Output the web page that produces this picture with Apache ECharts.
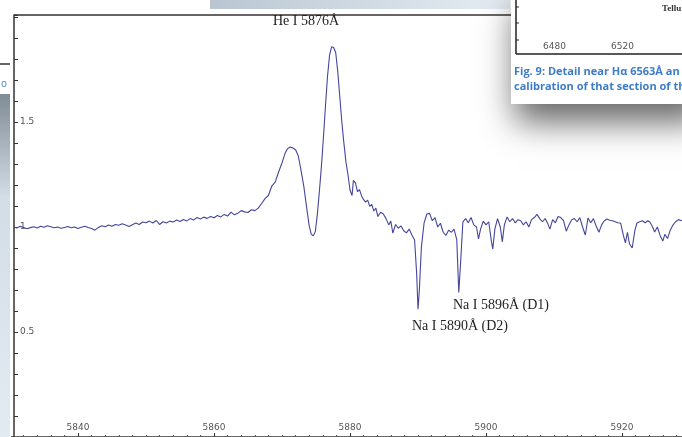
<!DOCTYPE html>
<html>
<head>
<meta charset="utf-8">
<script src="https://cdn.jsdelivr.net/npm/echarts@6/dist/echarts.min.js"></script>
<style>
html, body { margin: 0; padding: 0; background: #fff; }
#chart { width: 682px; height: 437px; }
</style>
</head>
<body>
<div id="chart"></div>
<script>
// wavelength (Å) and normalised flux
var wavelength = [
  5830.6, 5831.0, 5831.5, 5832.0, 5832.5, 5833.0, 5833.5, 5834.0, 5834.5, 5835.0,
  5835.5, 5836.0, 5836.5, 5837.0, 5837.5, 5838.0, 5838.5, 5839.0, 5839.5, 5840.0,
  5840.5, 5841.0, 5841.5, 5842.0, 5842.5, 5843.0, 5843.5, 5844.0, 5844.5, 5845.0,
  5845.5, 5846.0, 5846.5, 5847.0, 5847.5, 5848.0, 5848.5, 5849.0, 5849.5, 5850.0,
  5850.5, 5851.0, 5851.5, 5852.0, 5852.5, 5853.0, 5853.5, 5854.0, 5854.5, 5855.0,
  5855.5, 5856.0, 5856.5, 5857.0, 5857.5, 5858.0, 5858.5, 5859.0, 5859.5, 5860.0,
  5860.5, 5861.0, 5861.5, 5862.0, 5862.5, 5863.0, 5863.5, 5864.0, 5864.5, 5865.0,
  5865.5, 5866.0, 5866.5, 5867.0, 5867.5, 5868.0, 5868.5, 5869.0, 5869.5, 5870.0,
  5870.5, 5870.8, 5871.2, 5871.6, 5872.0, 5872.4, 5872.8, 5873.2, 5873.6, 5874.0,
  5874.3, 5874.6, 5874.9, 5875.2, 5875.5, 5875.8, 5876.1, 5876.4, 5876.7, 5877.0,
  5877.3, 5877.6, 5877.9, 5878.2, 5878.5, 5878.8, 5879.1, 5879.4, 5879.7, 5880.0,
  5880.3, 5880.5, 5880.8, 5881.1, 5881.4, 5881.7, 5882.0, 5882.3, 5882.6, 5882.9,
  5883.2, 5883.5, 5883.8, 5884.1, 5884.5, 5884.9, 5885.3, 5885.7, 5886.0, 5886.3,
  5886.7, 5887.1, 5887.5, 5887.9, 5888.3, 5888.7, 5889.1, 5889.5, 5889.8, 5890.0,
  5890.2, 5890.5, 5890.9, 5891.3, 5891.7, 5892.1, 5892.5, 5892.9, 5893.3, 5893.7,
  5894.1, 5894.5, 5894.9, 5895.3, 5895.7, 5896.0, 5896.3, 5896.6, 5897.0, 5897.4,
  5897.8, 5898.2, 5898.6, 5898.9, 5899.2, 5899.6, 5900.0, 5900.4, 5900.8, 5901.0,
  5901.3, 5901.7, 5902.1, 5902.4, 5902.7, 5903.1, 5903.5, 5903.9, 5904.3, 5904.7,
  5905.1, 5905.5, 5905.9, 5906.3, 5906.7, 5907.1, 5907.5, 5907.9, 5908.3, 5908.7,
  5909.1, 5909.4, 5909.8, 5910.2, 5910.6, 5911.0, 5911.4, 5911.8, 5912.2, 5912.6,
  5913.0, 5913.4, 5913.8, 5914.2, 5914.6, 5915.0, 5915.4, 5915.8, 5916.2, 5916.6,
  5917.0, 5917.4, 5917.8, 5918.2, 5918.6, 5919.0, 5919.4, 5919.8, 5920.2, 5920.5,
  5920.8, 5921.1, 5921.5, 5921.9, 5922.2, 5922.6, 5923.0, 5923.4, 5923.8, 5924.1,
  5924.5, 5924.8, 5925.2, 5925.6, 5926.0, 5926.3, 5926.7, 5927.1, 5927.5, 5927.9,
  5928.3, 5928.8
];
var flux = [
  1.000, 0.995, 1.003, 0.998, 0.992, 0.997, 1.001, 0.995, 1.004, 0.999,
  1.006, 1.001, 0.996, 1.000, 0.994, 0.998, 1.002, 0.996, 1.000, 0.993,
  0.999, 1.004, 0.998, 0.993, 0.985, 0.998, 1.006, 1.001, 1.010, 1.004,
  1.012, 1.008, 1.015, 1.009, 1.002, 1.011, 1.019, 1.012, 1.024, 1.020,
  1.028, 1.019, 1.031, 1.012, 1.025, 1.019, 1.028, 1.024, 1.033, 1.026,
  1.036, 1.029, 1.040, 1.033, 1.045, 1.038, 1.047, 1.041, 1.050, 1.044,
  1.055, 1.048, 1.060, 1.052, 1.071, 1.058, 1.065, 1.078, 1.072, 1.069,
  1.082, 1.078, 1.090, 1.112, 1.135, 1.150, 1.195, 1.214, 1.262, 1.305,
  1.355, 1.372, 1.381, 1.376, 1.368, 1.338, 1.270, 1.195, 1.098, 1.005,
  0.966, 0.958, 0.978, 1.060, 1.170, 1.290, 1.430, 1.580, 1.720, 1.820,
  1.858, 1.855, 1.830, 1.740, 1.620, 1.500, 1.400, 1.310, 1.250, 1.176,
  1.150, 1.222, 1.210, 1.168, 1.178, 1.148, 1.130, 1.118, 1.128, 1.098,
  1.108, 1.076, 1.090, 1.050, 1.070, 1.062, 1.040, 1.010, 1.028, 0.971,
  1.012, 0.994, 1.005, 0.982, 0.972, 0.990, 0.962, 0.938, 0.780, 0.608,
  0.700, 0.905, 1.020, 1.062, 1.065, 1.030, 1.045, 1.000, 1.018, 0.975,
  0.960, 0.985, 0.975, 0.990, 0.940, 0.688, 0.850, 1.024, 1.040, 1.020,
  1.045, 1.010, 1.000, 0.943, 0.990, 1.028, 1.010, 1.025, 0.930, 0.895,
  0.990, 1.040, 1.000, 0.929, 1.010, 1.048, 1.025, 1.040, 1.020, 1.035,
  1.030, 1.010, 1.025, 1.000, 1.035, 1.045, 1.060, 1.040, 1.025, 1.040,
  1.015, 0.990, 1.035, 1.020, 1.050, 1.045, 1.030, 0.980, 1.010, 1.035,
  1.040, 1.025, 1.045, 1.000, 0.962, 1.043, 1.020, 1.040, 1.005, 0.975,
  1.010, 1.030, 1.038, 1.032, 1.030, 1.025, 1.020, 1.018, 0.960, 0.924,
  0.975, 0.920, 0.900, 0.985, 1.019, 1.025, 1.030, 1.020, 1.030, 1.024,
  1.000, 0.976, 1.000, 0.960, 0.933, 0.965, 0.945, 0.986, 1.010, 1.025,
  1.035, 1.030
];
var xTickLabels = [5840, 5860, 5880, 5900, 5920];
var yTickLabels = [0.5, 1, 1.5];

var points = wavelength.map(function (w, i) { return [w, flux[i]]; });

var myChart = echarts.init(document.getElementById('chart'));

var option = {
    animation: false,
    backgroundColor: '#fff',
    grid: {
        left: -58,
        top: 15,
        width: 816,
        height: 422,
        containLabel: false,
        outerBoundsMode: 'none'
    },
    xAxis: {
        type: 'value',
        min: 5820,
        max: 5940,
        interval: 20,
        axisLine: { show: true, lineStyle: { color: '#333', width: 1.5 } },
        axisTick: { show: true, inside: true, length: 4, lineStyle: { color: '#333' } },
        minorTick: { show: true, splitNumber: 10, length: 2, lineStyle: { color: '#555' } },
        axisLabel: {
            inside: true,
            margin: 5,
            color: '#555',
            fontSize: 9,
            fontFamily: 'DejaVu Sans',
            formatter: function (v) { return xTickLabels.indexOf(v) >= 0 ? String(v) : ''; }
        },
        splitLine: { show: false }
    },
    yAxis: {
        type: 'value',
        min: 0,
        max: 2.0095,
        interval: 0.5,
        offset: -72,
        axisLine: { show: true, onZero: false, lineStyle: { color: '#333', width: 1.5 } },
        axisTick: { show: true, inside: true, length: 4, lineStyle: { color: '#333' } },
        minorTick: { show: true, splitNumber: 5, length: 4, lineStyle: { color: '#333' } },
        axisLabel: {
            inside: true,
            margin: 6,
            color: '#555',
            fontSize: 9,
            fontFamily: 'DejaVu Sans',
            formatter: function (v) { return yTickLabels.indexOf(v) >= 0 ? String(v) : ''; }
        },
        splitLine: { show: false }
    },
    series: [{
        type: 'line',
        data: points,
        showSymbol: false,
        lineStyle: { color: '#45459c', width: 1.1 },
        z: 3
    }],
    graphic: [
        // top frame line of the plot
        { type: 'line', z: 10, shape: { x1: 14, y1: 15, x2: 682, y2: 15 }, style: { stroke: '#333', lineWidth: 1.5 } },
        // bits of the surrounding page
        { type: 'rect', z: 10, shape: { x: 0, y: 0, width: 11, height: 437 }, style: { fill: '#fff' } },
        {
            type: 'rect', z: 11, shape: { x: 0, y: 94, width: 10, height: 343 },
            style: {
                fill: new echarts.graphic.LinearGradient(0, 0, 0, 1, [
                    { offset: 0, color: '#7f8b96' },
                    { offset: 0.3, color: '#d3dde6' },
                    { offset: 1, color: '#e3ebf2' }
                ])
            }
        },
        { type: 'line', z: 11, shape: { x1: 0, y1: 64, x2: 10, y2: 64 }, style: { stroke: '#333', lineWidth: 1.5 } },
        { type: 'text', z: 11, left: 1, top: 79, style: { text: 'o', font: '10px "Open Sans"', fill: '#3d7cc9' } },
        {
            type: 'rect', z: 10, shape: { x: 210, y: 0, width: 300, height: 9 },
            style: {
                fill: new echarts.graphic.LinearGradient(0, 0, 1, 0, [
                    { offset: 0, color: '#b9c6d2' },
                    { offset: 1, color: '#e6edf3' }
                ])
            }
        },
        // overlapping figure in the top right corner
        {
            type: 'rect', z: 20, shape: { x: 511, y: -10, width: 190, height: 114 },
            style: { fill: '#fff', shadowBlur: 32, shadowOffsetY: 18, shadowOffsetX: 4, shadowColor: 'rgba(0,0,0,0.6)' }
        },
        { type: 'line', z: 21, shape: { x1: 516, y1: 0, x2: 516, y2: 54 }, style: { stroke: '#222', lineWidth: 1.5 } },
        { type: 'line', z: 21, shape: { x1: 516, y1: 54, x2: 682, y2: 54 }, style: { stroke: '#222', lineWidth: 1.5 } },
        { type: 'line', z: 21, shape: { x1: 516, y1: 7, x2: 519, y2: 7 }, style: { stroke: '#222' } },
        { type: 'line', z: 21, shape: { x1: 516, y1: 23, x2: 519, y2: 23 }, style: { stroke: '#222' } },
        { type: 'line', z: 21, shape: { x1: 516, y1: 40, x2: 519, y2: 40 }, style: { stroke: '#222' } },
        { type: 'text', z: 21, left: 543, top: 42, style: { text: '6480', font: '9px "DejaVu Sans"', fill: '#555' } },
        { type: 'text', z: 21, left: 611, top: 42, style: { text: '6520', font: '9px "DejaVu Sans"', fill: '#555' } },
        { type: 'text', z: 21, left: 662, top: 4, style: { text: 'Tellu', font: 'bold 9px "Liberation Serif"', fill: '#333' } },
        { type: 'text', z: 21, left: 514, top: 66, style: { text: 'Fig. 9: Detail near H\u03b1 6563\u00c5 an', font: 'bold 11px "Open Sans"', fill: '#3d7cc9' } },
        { type: 'text', z: 21, left: 514, top: 81, style: { text: 'calibration of that section of th', font: 'bold 11px "Open Sans"', fill: '#3d7cc9' } },
        // line annotations
        { type: 'text', z: 12, left: 273, top: 14, style: { text: 'He I 5876\u00c5', font: '14px "Liberation Serif"', fill: '#222' } },
        { type: 'text', z: 12, left: 453, top: 298, style: { text: 'Na I 5896\u00c5 (D1)', font: '14px "Liberation Serif"', fill: '#222' } },
        { type: 'text', z: 12, left: 412, top: 319, style: { text: 'Na I 5890\u00c5 (D2)', font: '14px "Liberation Serif"', fill: '#222' } }
    ]
};

myChart.setOption(option);
</script>
</body>
</html>
